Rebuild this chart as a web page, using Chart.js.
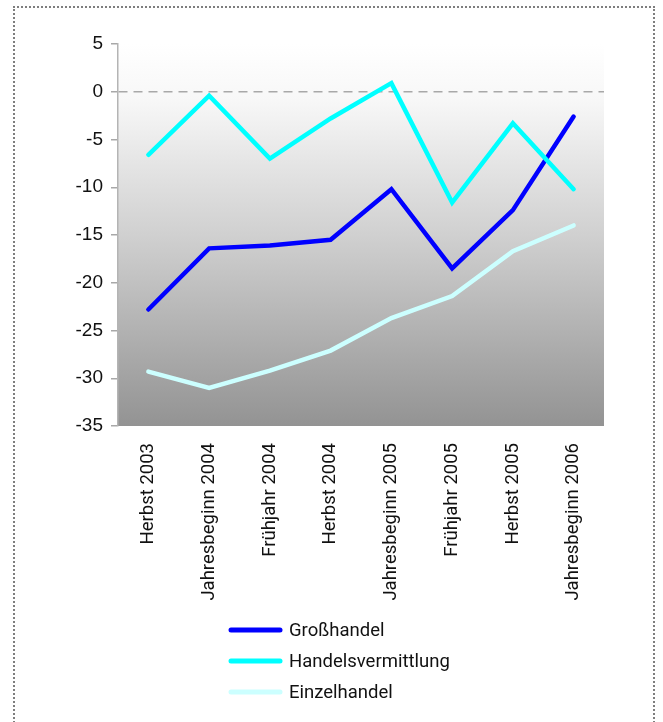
<!DOCTYPE html>
<html lang="de">
<head>
<meta charset="utf-8">
<title>Geschäftslage im Handel</title>
<script src="https://cdn.jsdelivr.net/npm/chart.js@4/dist/chart.umd.min.js"></script>
<style>
  html, body { margin: 0; padding: 0; background: #fff; }
  #wrap { position: relative; width: 663px; height: 722px; overflow: hidden; }
  #frame {
    position: absolute; left: 13px; top: 6px; width: 638px; height: 760px;
    border: 2px dotted #7e7e7e;
  }
  #c { position: absolute; left: 0; top: 0; }
</style>
</head>
<body>
<div id="wrap">
  <div id="frame"></div>
  <canvas id="c" width="663" height="722"></canvas>
</div>
<script>
// Survey periods
const categories = [
  'Herbst 2003', 'Jahresbeginn 2004', 'Frühjahr 2004', 'Herbst 2004',
  'Jahresbeginn 2005', 'Frühjahr 2005', 'Herbst 2005', 'Jahresbeginn 2006'
];

// Balance values per trade branch
const grosshandel = [-22.8, -16.4, -16.1, -15.5, -10.2, -18.5, -12.4, -2.6];
const handelsvermittlung = [-6.6, -0.4, -7.0, -2.8, 0.9, -11.6, -3.3, -10.2];
const einzelhandel = [-29.3, -31.0, -29.2, -27.1, -23.7, -21.4, -16.7, -14.0];

// Value axis
const yMin = -35;
const yMax = 5;
const yStep = 5;

const seriesNames = ['Großhandel', 'Handelsvermittlung', 'Einzelhandel'];
const seriesColors = ['#0000ff', '#00ffff', '#ccffff'];

// Grey gradient behind the plot area
const plotBackground = {
  id: 'plotBackground',
  beforeDraw(chart) {
    const { ctx, chartArea: a } = chart;
    const g = ctx.createLinearGradient(0, a.top, 0, a.bottom);
    g.addColorStop(0, '#ffffff');
    g.addColorStop(0.15, '#f7f7f7');
    g.addColorStop(0.5, '#d0d0d0');
    g.addColorStop(1, '#939393');
    ctx.save();
    ctx.fillStyle = g;
    ctx.fillRect(a.left, a.top, a.right - a.left, a.bottom - a.top);
    ctx.restore();
  }
};

// Stacked legend below the category labels
const columnLegend = {
  id: 'columnLegend',
  afterDraw(chart) {
    const { ctx } = chart;
    const x0 = 229, x1 = 282, tx = 289;
    const rows = [630, 661, 692];
    ctx.save();
    chart.data.datasets
      .slice()
      .sort((p, q) => p.legendIndex - q.legendIndex)
      .forEach((ds, i) => {
        const y = rows[i];
        ctx.strokeStyle = ds.borderColor;
        ctx.lineWidth = 5;
        ctx.lineCap = 'round';
        ctx.beginPath();
        ctx.moveTo(x0 + 2, y);
        ctx.lineTo(x1 - 2, y);
        ctx.stroke();
        ctx.fillStyle = '#111';
        ctx.font = '18.5px Roboto';
        ctx.textBaseline = 'middle';
        ctx.textAlign = 'left';
        ctx.fillText(ds.label, tx, y + 1);
      });
    ctx.restore();
  }
};

const values = [grosshandel, handelsvermittlung, einzelhandel];
const drawOrder = [1, 0, 2];

new Chart(document.getElementById('c'), {
  type: 'line',
  data: {
    labels: categories,
    datasets: values.map((v, i) => ({
      label: seriesNames[i],
      legendIndex: i,
      data: v,
      order: drawOrder[i],
      borderColor: seriesColors[i],
      backgroundColor: seriesColors[i],
      borderWidth: 4.5,
      borderCapStyle: 'round',
      pointRadius: 0,
      pointHoverRadius: 0,
      tension: 0,
      fill: false
    }))
  },
  options: {
    responsive: false,
    animation: false,
    devicePixelRatio: 1,
    layout: { padding: { left: 0, right: 59, top: 44, bottom: 0 } },
    plugins: {
      legend: { display: false },
      tooltip: { enabled: false }
    },
    scales: {
      x: {
        offset: true,
        grid: { display: false, drawTicks: false },
        border: { display: false },
        ticks: {
          minRotation: 90,
          maxRotation: 90,
          autoSkip: false,
          padding: 17,
          color: '#111',
          font: { family: 'Roboto', size: 18.5 }
        },
        afterFit(axis) { axis.height = 296; }
      },
      y: {
        min: yMin,
        max: yMax,
        ticks: {
          stepSize: yStep,
          padding: 8,
          color: '#111',
          font: { family: 'Liberation Sans', size: 19 },
          callback: (v) => String(v)
        },
        grid: {
          color: (c) => (c.tick && c.tick.value === 0 ? '#a8a8a8' : 'rgba(0,0,0,0)'),
          lineWidth: 1.5,
          tickColor: '#a8a8a8',
          tickLength: 7,
          tickBorderDash: [],
          tickWidth: 1.5
        },
        border: {
          display: true,
          color: '#b4b4b4',
          width: 1.5,
          dash: [9, 6]
        },
        afterFit(axis) { axis.width = 118; }
      }
    }
  },
  plugins: [plotBackground, columnLegend]
});
</script>
</body>
</html>
